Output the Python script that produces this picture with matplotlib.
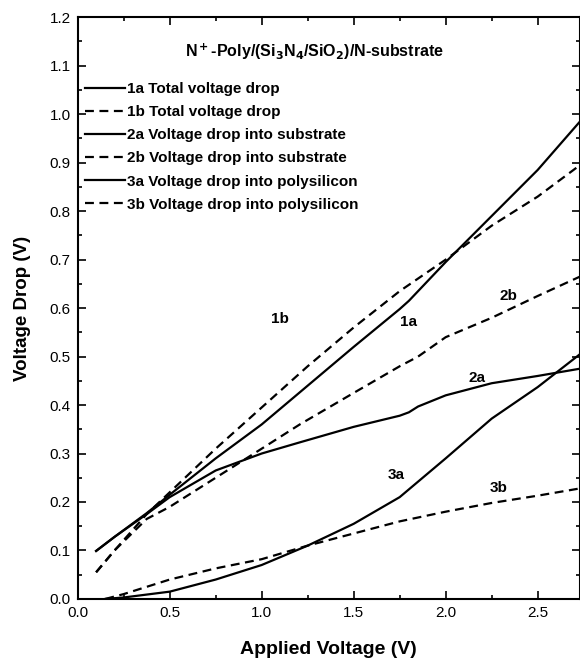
import numpy as np
import matplotlib
matplotlib.use("Agg")
import matplotlib.pyplot as plt
from matplotlib.ticker import MultipleLocator, FormatStrFormatter

plt.rcParams['font.family'] = ['Liberation Sans', 'DejaVu Sans']

# Applied voltage (V) and voltage drops (V) for each case
v_total = [0.1, 0.2, 0.375, 0.5, 0.75, 1.0, 1.25, 1.5, 1.75, 1.8, 2.0, 2.25, 2.5, 2.73]
drop_1a = [0.099, 0.128, 0.177, 0.215, 0.29, 0.36, 0.44, 0.52, 0.598, 0.615, 0.695, 0.79, 0.885, 0.985]
drop_1b = [0.055, 0.10, 0.175, 0.22, 0.31, 0.395, 0.48, 0.56, 0.635, 0.648, 0.70, 0.77, 0.83, 0.895]

v_sub = [0.1, 0.2, 0.375, 0.5, 0.75, 1.0, 1.207, 1.5, 1.75, 1.8, 1.85, 2.0, 2.25, 2.5, 2.73]
drop_2a = [0.099, 0.128, 0.175, 0.21, 0.265, 0.30, 0.323, 0.355, 0.378, 0.385, 0.397, 0.42, 0.445, 0.46, 0.475]
drop_2b = [0.055, 0.10, 0.165, 0.19, 0.25, 0.31, 0.36, 0.425, 0.48, 0.49, 0.50, 0.54, 0.58, 0.625, 0.665]

v_poly = [0.15, 0.25, 0.5, 0.75, 1.0, 1.25, 1.5, 1.75, 2.0, 2.25, 2.5, 2.73]
drop_3a = [0.0, 0.003, 0.015, 0.04, 0.07, 0.11, 0.155, 0.21, 0.29, 0.372, 0.437, 0.505]
drop_3b = [0.0, 0.01, 0.04, 0.063, 0.082, 0.11, 0.135, 0.16, 0.18, 0.198, 0.213, 0.228]

legend_labels = ["1a Total voltage drop", "1b Total voltage drop",
                 "2a Voltage drop into substrate", "2b Voltage drop into substrate",
                 "3a Voltage drop into polysilicon", "3b Voltage drop into polysilicon"]

# curve tags placed next to the lines
tag_text = ["1b", "1a", "2b", "2a", "3a", "3b"]
tag_x = [1.10, 1.80, 2.34, 2.17, 1.73, 2.29]
tag_y = [0.578, 0.572, 0.625, 0.455, 0.255, 0.228]

fig = plt.figure(figsize=(5.8, 6.64), dpi=100)
ax = fig.add_axes([0.134, 0.098, 0.866, 0.876])

solid = dict(color='black', lw=1.6, ls='-')
dash = dict(color='black', lw=1.6, ls=(0, (4, 2.5)))

ax.plot(v_total, drop_1a, label=legend_labels[0], **solid)
ax.plot(v_total, drop_1b, label=legend_labels[1], **dash)
ax.plot(v_sub, drop_2a, label=legend_labels[2], **solid)
ax.plot(v_sub, drop_2b, label=legend_labels[3], **dash)
ax.plot(v_poly, drop_3a, label=legend_labels[4], **solid)
ax.plot(v_poly, drop_3b, label=legend_labels[5], **dash)

for t, x, y in zip(tag_text, tag_x, tag_y):
    ax.text(x, y, t, fontsize=11, fontweight='bold', ha='center', va='center')

ax.set_xlim(0, 2.73)
ax.set_ylim(0, 1.2)
ax.xaxis.set_major_locator(MultipleLocator(0.5))
ax.xaxis.set_minor_locator(MultipleLocator(0.25))
ax.yaxis.set_major_locator(MultipleLocator(0.1))
ax.yaxis.set_minor_locator(MultipleLocator(0.05))
ax.xaxis.set_major_formatter(FormatStrFormatter('%.1f'))
ax.yaxis.set_major_formatter(FormatStrFormatter('%.1f'))
ax.tick_params(which='both', direction='in', top=True, right=True, width=1.2, labelsize=11)
ax.tick_params(which='major', length=6, pad=5)
ax.tick_params(which='minor', length=3)
for s in ax.spines.values():
    s.set_linewidth(1.5)

ax.set_xlabel("Applied Voltage (V)", fontsize=14, fontweight='bold')
ax.set_ylabel("Voltage Drop (V)", fontsize=13.5, fontweight='bold')
ax.xaxis.set_label_coords(0.5, -0.072)
ax.yaxis.set_label_coords(-0.093, 0.5)

ax.text(0.472, 0.94, r"N$^{\bf +}$-Poly/(Si$_{\bf 3}$N$_{\bf 4}$/SiO$_{\bf 2}$)/N-substrate",
        transform=ax.transAxes, ha='center', va='center', fontsize=11.5, fontweight='bold')

leg = ax.legend(loc='upper left', bbox_to_anchor=(0.0, 0.902), frameon=False,
                prop={'weight': 'bold', 'size': 11}, handlelength=2.6,
                handletextpad=0.1, labelspacing=0.6, borderaxespad=0.3, borderpad=0.2)

fig.savefig("out.png", dpi=100)
